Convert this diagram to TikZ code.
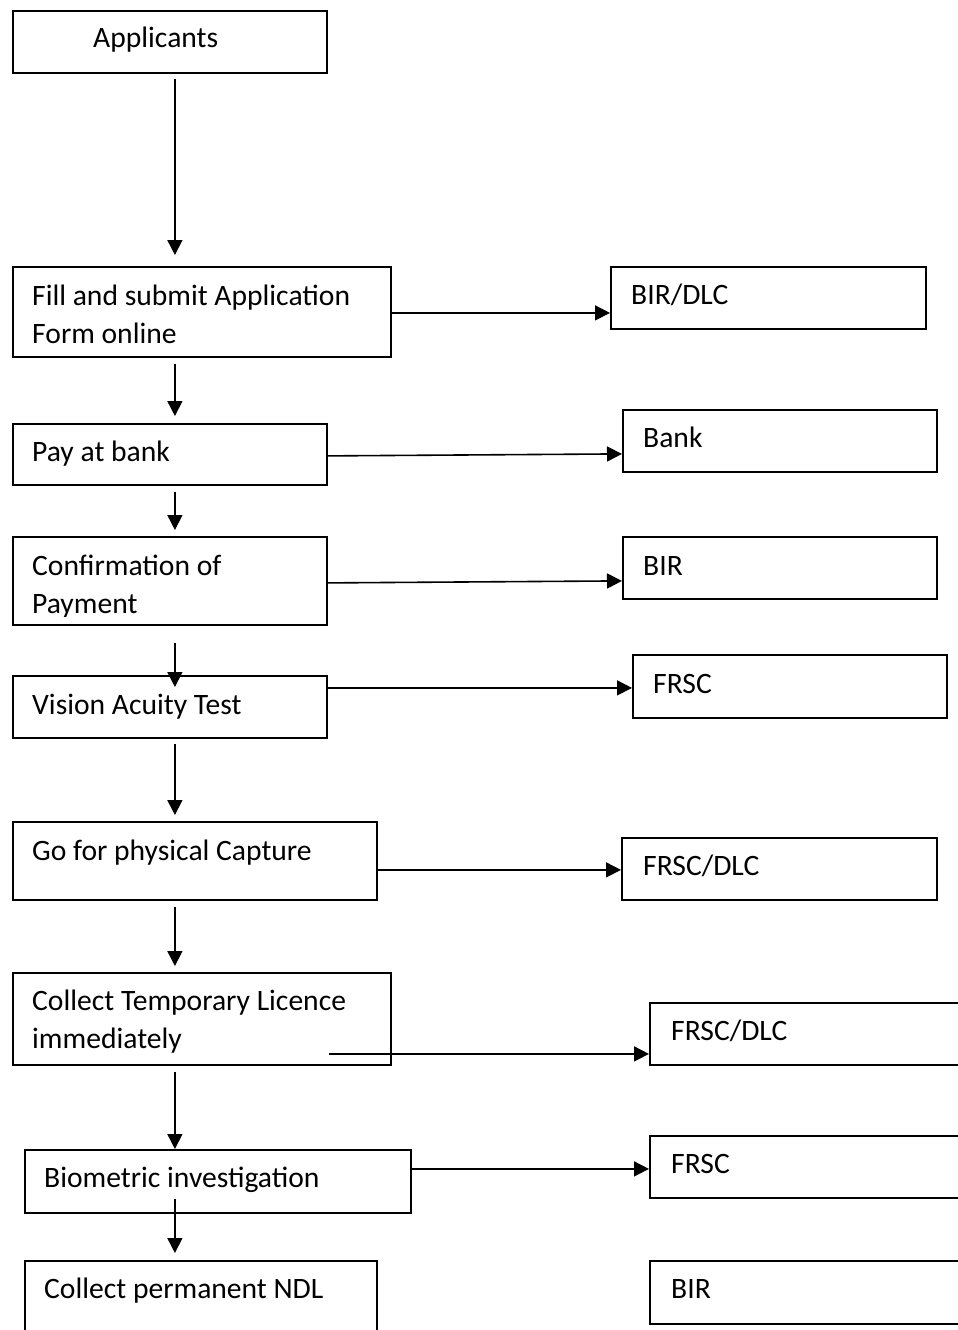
\documentclass[tikz,border=0pt]{standalone}
\usepackage{fontspec}
\setmainfont{Carlito}
\usetikzlibrary{arrows.meta}

\begin{document}
\begin{tikzpicture}[x=1pt, y=-1pt,
    box/.style={draw, line width=1.8pt, anchor=north west, inner sep=0pt},
    txt/.style={anchor=base west, inner sep=0pt, font=\fontsize{29.6}{38}\selectfont, align=left},
    flow/.style={-{Triangle[width=15pt,length=15pt]}, line width=1.6pt}]
        \useasboundingbox (0,0) rectangle (958,1330);

        % Applicants
        \node[box, minimum width=314pt, minimum height=62pt] (app) at (12,10) {};
        \node[txt] (appt) at (93,48) {Applicants};

        % Fill and submit (base = last line)
        \node[box, minimum width=378pt, minimum height=90pt] (fill) at (12,266) {};
        \node[txt] (fillt) at (32,343) {Fill and submit Application\\Form online};
        \node[box, minimum width=315pt, minimum height=62pt] (birdlc) at (610,266) {};
        \node[txt] (birdlct) at (631,304) {BIR/DLC};

        % Pay at bank
        \node[box, minimum width=314pt, minimum height=61pt] (pay) at (12,423) {};
        \node[txt] (payt) at (32,461) {Pay at bank};
        \node[box, minimum width=314pt, minimum height=62pt] (bank) at (622,409) {};
        \node[txt] (bankt) at (643,447) {Bank};

        % Confirmation of payment
        \node[box, minimum width=314pt, minimum height=88pt] (conf) at (12,536) {};
        \begin{scope}
            \clip (conf.north west) rectangle ([yshift=9pt]conf.south east);
            \node[txt] (conft) at (32,613) {Confirmation of\\Payment};
        \end{scope}
        \node[box, minimum width=314pt, minimum height=62pt] (bir) at (622,536) {};
        \node[txt] (birt) at (643,575) {BIR};

        % Vision test
        \node[box, minimum width=314pt, minimum height=62pt] (vision) at (12,675) {};
        \node[txt] (visiont) at (32,714) {Vision Acuity Test};
        \node[box, minimum width=314pt, minimum height=63pt] (frsc) at (632,654) {};
        \node[txt] (frsct) at (653,693) {FRSC};

        % Physical capture
        \node[box, minimum width=364pt, minimum height=78pt] (go) at (12,821) {};
        \node[txt] (got) at (32,860) {Go for physical Capture};
        \node[box, minimum width=315pt, minimum height=62pt] (frscdlc) at (621,837) {};
        \node[txt] (frscdlct) at (643,875) {FRSC/DLC};

        % Temporary licence
        \node[box, minimum width=378pt, minimum height=92pt] (temp) at (12,972) {};
        \node[txt] (tempt) at (32,1048) {Collect Temporary Licence\\immediately};
        \node[box, minimum width=330pt, minimum height=62pt] (frscdlcb) at (649,1002) {};
        \node[txt] (frscdlcbt) at (671,1040) {FRSC/DLC};

        % Biometric
        \node[box, minimum width=386pt, minimum height=63pt] (bio) at (24,1149) {};
        \node[txt] (biot) at (44,1187) {Biometric investigation};
        \node[box, minimum width=330pt, minimum height=62pt] (frscb) at (649,1135) {};
        \node[txt] (frscbt) at (671,1173) {FRSC};

        % Permanent NDL
        \node[box, minimum width=352pt, minimum height=100pt] (perm) at (24,1260) {};
        \node[txt] (permt) at (44,1298) {Collect permanent NDL};
        \node[box, minimum width=330pt, minimum height=63pt] (birb) at (649,1260) {};
        \node[txt] (birbt) at (671,1298) {BIR};

        % Down the left
        \draw[flow] ([shift={(5,5)}]app.south) -- ([shift={(-27,-11)}]fill.north);
        \draw[flow] ([shift={(-27,6)}]fill.south) -- ([shift={(5,-7)}]pay.north);
        \draw[flow] ([shift={(5,6)}]pay.south) -- ([shift={(5,-6)}]conf.north);
        \draw[flow] ([shift={(5,17)}]conf.south) -- ([shift={(5,12)}]vision.north);
        \draw[flow] ([shift={(5,5)}]vision.south) -- ([shift={(-20,-6)}]go.north);
        \draw[flow] ([shift={(-20,6)}]go.south) -- ([shift={(-27,-6)}]temp.north);
        \draw[flow] ([shift={(-27,6)}]temp.south) -- ([shift={(-43,0)}]bio.north);
        \draw[flow] ([shift={(-43,-15)}]bio.south) -- ([shift={(-26,-7)}]perm.north);

        % Across to the offices
        \draw[flow] ([shift={(0,1)}]fill.east) -- ([shift={(0,15)}]birdlc.west);
        \draw[flow] ([shift={(0,1.5)}]pay.east) -- ([shift={(0,13)}]bank.west);
        \draw[flow] ([shift={(0,2)}]conf.east) -- ([shift={(0,13)}]bir.west);
        \draw[flow] ([shift={(0,-19)}]vision.east) -- ([shift={(0,1.5)}]frsc.west);
        \draw[flow] ([shift={(0,9)}]go.east) -- ([shift={(0,1)}]frscdlc.west);
        \draw[flow] ([shift={(-63,35)}]temp.east) -- ([shift={(0,20)}]frscdlcb.west);
        \draw[flow] ([shift={(0,-12.5)}]bio.east) -- ([shift={(0,2)}]frscb.west);
    \end{tikzpicture}
\end{document}
